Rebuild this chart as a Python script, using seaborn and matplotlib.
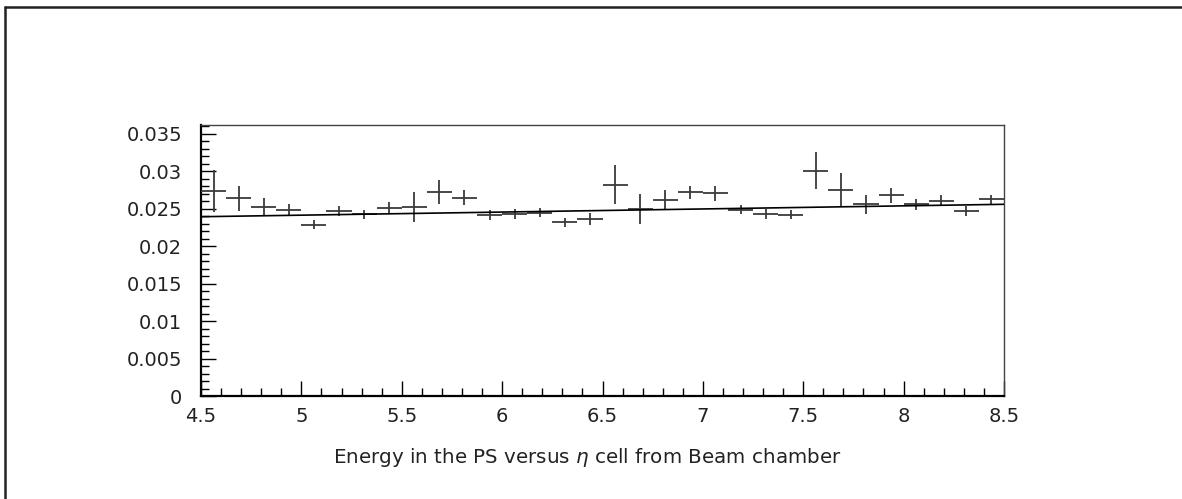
import numpy as np
import pandas as pd
import matplotlib
matplotlib.use("Agg")
import matplotlib.pyplot as plt
from matplotlib.ticker import MultipleLocator, FormatStrFormatter
import seaborn as sns

# Bin centres of the eta-cell histogram (32 bins of width 0.125 from 4.5 to 8.5)
bin_centers = [4.5625, 4.6875, 4.8125, 4.9375, 5.0625, 5.1875, 5.3125, 5.4375,
               5.5625, 5.6875, 5.8125, 5.9375, 6.0625, 6.1875, 6.3125, 6.4375,
               6.5625, 6.6875, 6.8125, 6.9375, 7.0625, 7.1875, 7.3125, 7.4375,
               7.5625, 7.6875, 7.8125, 7.9375, 8.0625, 8.1875, 8.3125, 8.4375]
bin_half_width = 0.0625

# Mean PS energy per bin and its uncertainty
energy = [0.0274, 0.0264, 0.0253, 0.0248, 0.0229, 0.0247, 0.0243, 0.0251,
          0.0252, 0.0273, 0.0265, 0.0242, 0.0243, 0.0245, 0.0232, 0.0236,
          0.0282, 0.0250, 0.0262, 0.0272, 0.0271, 0.0249, 0.0243, 0.0242,
          0.0301, 0.0275, 0.0256, 0.0268, 0.0256, 0.0261, 0.0247, 0.0263]
energy_err = [0.0028, 0.0017, 0.0011, 0.0008, 0.0006, 0.0007, 0.0006, 0.0008,
              0.0020, 0.0016, 0.0010, 0.0007, 0.0007, 0.0006, 0.0006, 0.0008,
              0.0026, 0.0020, 0.0013, 0.0009, 0.0010, 0.0006, 0.0007, 0.0006,
              0.0025, 0.0023, 0.0013, 0.0010, 0.0007, 0.0007, 0.0007, 0.0006]

# Linear fit parameters: p0 + p1 * eta
fit_p0 = 0.02208
fit_p1 = 0.000415

x_range = (4.5, 8.5)
y_range = (0.0, 0.0362)

sns.set_theme(style="white")
plt.rcParams["font.family"] = ["DejaVu Sans"]
plt.rcParams["mathtext.fontset"] = "dejavusans"

fig = plt.figure(figsize=(11.82, 4.99), dpi=100)
ax = fig.add_axes([201 / 1182, 1 - 396 / 499, (1004 - 201) / 1182, (396 - 125) / 499])

df = pd.DataFrame({"eta": bin_centers, "energy": energy, "err": energy_err})

ax.errorbar(df["eta"], df["energy"], xerr=bin_half_width, yerr=df["err"],
            fmt="none", ecolor="#3a3a3a", elinewidth=1.3, capsize=0, zorder=3)

fit_df = pd.DataFrame({"eta": list(x_range)})
fit_df["fit"] = fit_p0 + fit_p1 * fit_df["eta"]
sns.lineplot(data=fit_df, x="eta", y="fit", ax=ax, color="black", linewidth=1.2,
             zorder=4, legend=False)

ax.set_xlim(*x_range)
ax.set_ylim(*y_range)
ax.set_xlabel(r"Energy in the PS versus $\eta$ cell from Beam chamber",
              fontsize=14.3, color="#222222")
ax.xaxis.set_label_coords(0.481, -0.183)
ax.set_ylabel("")

ax.xaxis.set_major_locator(MultipleLocator(0.5))
ax.xaxis.set_minor_locator(MultipleLocator(0.1))
ax.yaxis.set_major_locator(MultipleLocator(0.005))
ax.yaxis.set_minor_locator(MultipleLocator(0.001))
ax.xaxis.set_major_formatter(FormatStrFormatter("%g"))
ax.yaxis.set_major_formatter(FormatStrFormatter("%g"))

ax.tick_params(axis="both", which="both", direction="in", color="black",
               bottom=True, left=True, top=False, right=False)
ax.tick_params(axis="both", which="major", length=11, width=1.0, labelsize=14,
               labelcolor="#222222")
ax.tick_params(axis="both", which="minor", length=5.5, width=1.0)
ax.tick_params(axis="y", which="major", pad=13.5)
ax.tick_params(axis="x", which="major", pad=8)

for side in ["left", "bottom"]:
    ax.spines[side].set_linewidth(1.6)
    ax.spines[side].set_color("black")
for side in ["top", "right"]:
    ax.spines[side].set_linewidth(1.0)
    ax.spines[side].set_color("#444444")

# Canvas frame: top and left edges
fig.add_artist(plt.Line2D([5 / 1182, 1], [1 - 7 / 499, 1 - 7 / 499],
                          transform=fig.transFigure, color="#222222", linewidth=1.8))
fig.add_artist(plt.Line2D([5 / 1182, 5 / 1182], [0, 1 - 7 / 499],
                          transform=fig.transFigure, color="#222222", linewidth=1.8))

fig.savefig("out.png", dpi=100, facecolor="white")
